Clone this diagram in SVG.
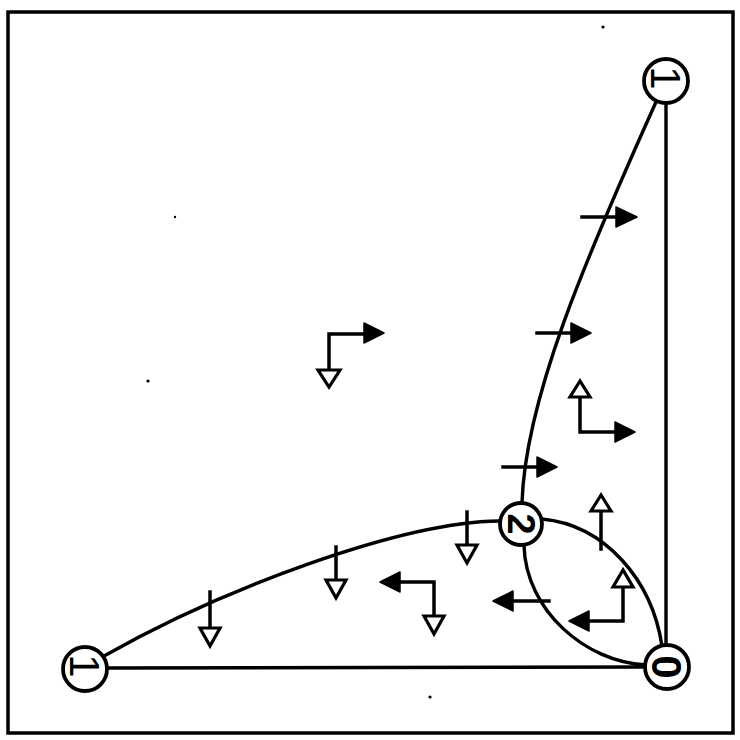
<svg xmlns="http://www.w3.org/2000/svg" width="740" height="740" viewBox="0 0 740 740">
<style>
.frame{fill:none;stroke:#000;stroke-width:3.5}
.edge{fill:none;stroke:#000;stroke-width:3.4;stroke-linecap:round}
.node{fill:#fff;stroke:#000;stroke-width:3.8}
.lbl{font-family:"Liberation Sans",Arial,sans-serif;font-size:42px;fill:#000;text-anchor:middle}
.stem{fill:none;stroke:#000;stroke-width:3.5;stroke-linejoin:miter;stroke-linecap:square}
.fh{fill:#000;stroke:#000;stroke-width:1.5;stroke-linejoin:round}
.hh{fill:#fff;stroke:#000;stroke-width:3.2;stroke-linejoin:miter}
.dot{fill:#000}
</style>
<rect width="740" height="740" fill="#fff"/>
<rect class="frame" x="8" y="12" width="725" height="721"/>
<g id="specks">
<circle class="dot" cx="603" cy="27" r="1.6"/>
<circle class="dot" cx="148" cy="381" r="1.6"/>
<circle class="dot" cx="175" cy="217" r="1.2"/>
<circle class="dot" cx="430" cy="697" r="1.6"/>
</g>
<g id="connectors">
<path class="edge" d="M107,668 L645,667"/>
<path class="edge" d="M666,103 L666,645"/>
<path class="edge" d="M104,656 C220,590 400,522 499,521"/>
<path class="edge" d="M522,503 C525,400 585,260 656,102"/>
<path class="edge" d="M542,519 C605,525 652,580 662,646"/>
<path class="edge" d="M524,546 C526,610 585,662 646,665"/>
</g>
<g id="arrows">
<g id="a1"><path class="stem" d="M582,217 H618"/><polygon class="fh" points="637,217 616,207 616,227"/></g>
<g id="a2"><path class="stem" d="M537,333 H573"/><polygon class="fh" points="591,333 571,323 571,343"/></g>
<g id="a3"><path class="stem" d="M503,467 H539"/><polygon class="fh" points="557,467 537,457 537,477"/></g>
<g id="a4"><path class="stem" d="M580,397 V432 H617"/><polygon class="hh" points="580,381 570,397 590,397"/><polygon class="fh" points="635,432 615,422 615,442"/></g>
<g id="a5"><path class="stem" d="M601,511 V549"/><polygon class="hh" points="601,495 591,511 611,511"/></g>
<g id="a6"><path class="stem" d="M623,587 V621 H588"/><polygon class="hh" points="623,570 613,587 633,587"/><polygon class="fh" points="569,621 589,611 589,631"/></g>
<g id="a7"><path class="stem" d="M549,601 H511"/><polygon class="fh" points="493,601 513,591 513,611"/></g>
<g id="a8"><path class="stem" d="M400,582 H434 V616"/><polygon class="fh" points="380,582 400,572 400,592"/><polygon class="hh" points="424,616 444,616 434,634"/></g>
<g id="a9"><path class="stem" d="M467,512 V545"/><polygon class="hh" points="457,545 477,545 467,563"/></g>
<g id="a10"><path class="stem" d="M336,547 V580"/><polygon class="hh" points="326,580 346,580 336,598"/></g>
<g id="a11"><path class="stem" d="M210,592 V628"/><polygon class="hh" points="200,628 220,628 210,646"/></g>
<g id="a12"><path class="stem" d="M329,370 V334 H366"/><polygon class="hh" points="318,370 340,370 329,387"/><polygon class="fh" points="384,333 364,323 364,343"/></g>
</g>
<g id="node-top">
<circle class="node" cx="666" cy="81" r="22"/>
<text class="lbl" transform="translate(666,81) rotate(90)" x="-3" y="15">1</text>
</g>
<g id="node-left">
<circle class="node" cx="85" cy="669" r="22"/>
<text class="lbl" transform="translate(85,669) rotate(90)" x="-3" y="15">1</text>
</g>
<g id="node-mid">
<circle class="node" cx="521" cy="524" r="21"/>
<text class="lbl" style="font-size:38px;font-weight:bold" transform="translate(521,524) rotate(90)" x="0" y="13.5">2</text>
</g>
<g id="node-br">
<circle class="node" cx="667" cy="667" r="22"/>
<text class="lbl" style="font-size:42px;font-weight:bold" transform="translate(667,667) rotate(90)" x="0" y="15">0</text>
</g>
</svg>
